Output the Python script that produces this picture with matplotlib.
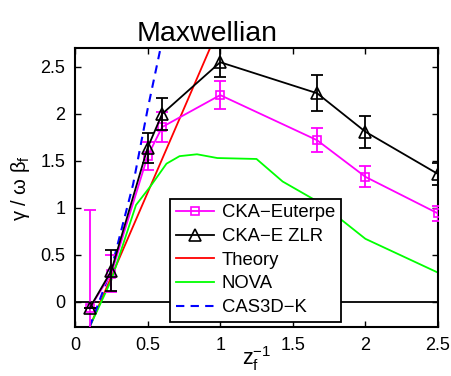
import numpy as np
import matplotlib
matplotlib.use("Agg")
import matplotlib.pyplot as plt
from matplotlib.ticker import FormatStrFormatter

plt.rcParams['font.family'] = ['Liberation Sans', 'DejaVu Sans']
plt.rcParams['mathtext.fontset'] = 'custom'
plt.rcParams['mathtext.rm'] = 'Liberation Sans'
plt.rcParams['mathtext.it'] = 'Liberation Sans'

# CKA runs, x = 1/z_f
x_cka = [0.1, 0.25, 0.5, 0.6, 1.0, 1.667, 2.0, 2.5]
euterpe = [-0.07, 0.30, 1.55, 1.86, 2.20, 1.72, 1.33, 0.94]
euterpe_err = [1.05, 0.20, 0.15, 0.16, 0.15, 0.13, 0.11, 0.08]
zlr = [-0.07, 0.33, 1.64, 2.00, 2.55, 2.22, 1.81, 1.36]
zlr_err = [0.0, 0.22, 0.16, 0.17, 0.16, 0.19, 0.17, 0.12]

# analytic estimate
x_theory = [0.1, 1.0]
theory = [-0.27, 2.95]

# NOVA curve
x_nova = [0.1, 0.25, 0.42, 0.52, 0.63, 0.72, 0.84, 0.98, 1.25, 1.43, 1.69, 2.0, 2.5]
nova = [-0.27, 0.23, 1.03, 1.23, 1.47, 1.55, 1.57, 1.53, 1.52, 1.28, 1.05, 0.67, 0.31]

# CAS3D-K curve
x_cas = [0.1, 0.25, 0.4, 0.5, 0.6]
cas3d = [-0.27, 0.35, 1.25, 2.05, 2.78]

labels = ['CKA\u2212Euterpe', 'CKA\u2212E ZLR', 'Theory', 'NOVA', 'CAS3D\u2212K']

fig = plt.figure(figsize=(4.52, 3.76), dpi=100)
ax = fig.add_axes([0.166, 0.130, 0.803, 0.742])

magenta = '#ff00ff'
ax.axhline(0, color='k', lw=1.3, zorder=1)

ax.errorbar(x_cka, euterpe, yerr=euterpe_err, fmt='none', ecolor=magenta,
            elinewidth=1.3, capsize=4.5, capthick=1.3, zorder=3)
l1, = ax.plot(x_cka, euterpe, color=magenta, lw=1.3, marker='s', ms=6,
              mfc='none', mec=magenta, mew=1.2, zorder=3)
ax.errorbar(x_cka, zlr, yerr=zlr_err, fmt='none', ecolor='k',
            elinewidth=1.3, capsize=4.5, capthick=1.3, zorder=4)
l2, = ax.plot(x_cka, zlr, color='k', lw=1.3, marker='^', ms=9,
              mfc='none', mec='k', mew=1.2, zorder=4)
l3, = ax.plot(x_theory, theory, color='#ff0000', lw=1.3, zorder=2)
l4, = ax.plot(x_nova, nova, color='#00ff00', lw=1.3, zorder=2)
l5, = ax.plot(x_cas, cas3d, color='#0000ff', lw=1.5, ls=(0, (4, 3)), zorder=2)

ax.set_xlim(0, 2.5)
ax.set_ylim(-0.27, 2.7)
ax.set_xticks([0, 0.5, 1, 1.5, 2, 2.5])
ax.set_yticks([0, 0.5, 1, 1.5, 2, 2.5])
ax.xaxis.set_major_formatter(FormatStrFormatter('%g'))
ax.yaxis.set_major_formatter(FormatStrFormatter('%g'))
ax.tick_params(direction='in', top=True, right=True, length=4, width=1,
               labelsize=13, pad=7)
for s in ax.spines.values():
    s.set_linewidth(1.5)

ax.set_title('Maxwellian', fontsize=20.5, x=0.364, pad=5)
ax.set_xlabel(r'$\mathregular{z_f^{-1}}$', fontsize=15.5, labelpad=-7)
ax.set_ylabel(r'$\mathregular{\gamma\ /\ \omega\ \beta_f}$', fontsize=14.5,
              labelpad=6)

leg = ax.legend([l1, l2, l3, l4, l5], labels,
                loc='lower left', bbox_to_anchor=(0.262, 0.02),
                borderaxespad=0, fontsize=13.3, fancybox=False,
                framealpha=1, edgecolor='k', handlelength=2.1,
                handletextpad=0.4, labelspacing=0.36, borderpad=0.3)
leg.get_frame().set_linewidth(1.3)
leg.set_zorder(5)

fig.savefig('out.png', dpi=100)
